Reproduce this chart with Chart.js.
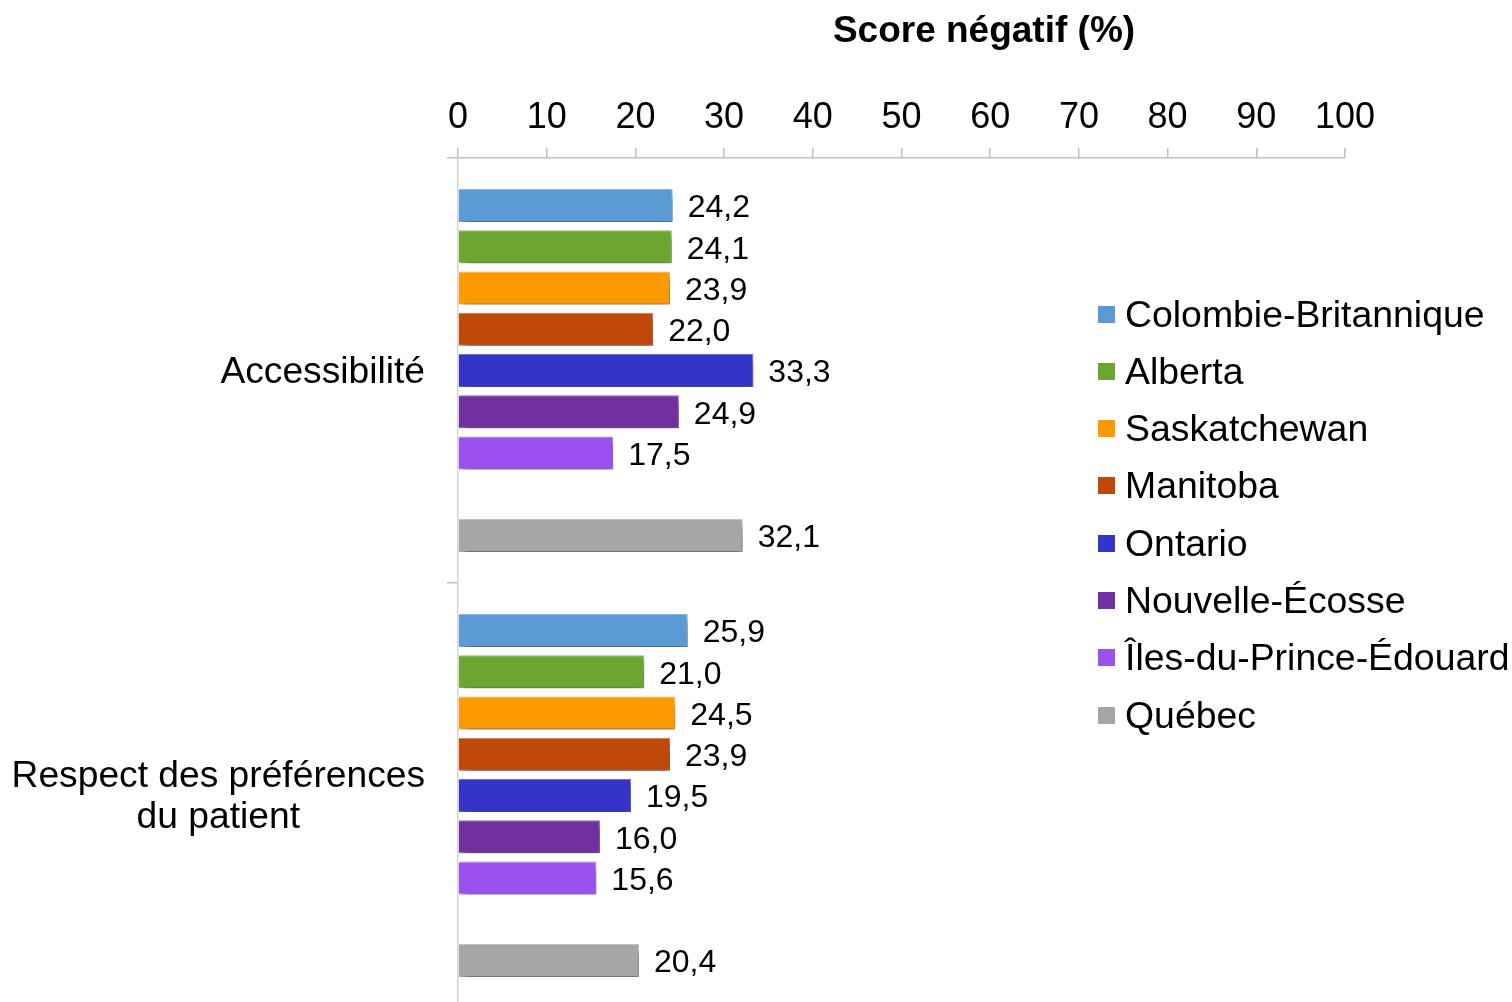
<!DOCTYPE html>
<html lang="fr">
<head>
<meta charset="utf-8">
<title>Score négatif (%)</title>
<script src="https://cdn.jsdelivr.net/npm/chart.js@4.4.1/dist/chart.umd.min.js"></script>
<style>
  html, body { margin: 0; padding: 0; background: #fff; overflow: hidden; }
  #wrap { position: relative; width: 1512px; height: 1008px; }
  #legend { position: absolute; left: 1098px; top: 0; font-family: "Liberation Sans", Arial, sans-serif; font-size: 37.4px; color: #000; }
  .item { position: absolute; left: 0; height: 40px; display: flex; align-items: center; white-space: nowrap; }
  .box { width: 17px; height: 17px; margin-right: 10px; flex: none; }
</style>
</head>
<body>
<div id="wrap">
  <canvas id="chart"></canvas>
  <div id="legend"></div>
</div>
<script>
// Categories (y axis) and the x tick values
const categories = ['Accessibilité', ['Respect des préférences', 'du patient']];
const xTicks = [0, 10, 20, 30, 40, 50, 60, 70, 80, 90, 100];

// Negative score (%) per province, one value per category
const colombieBritannique = [24.2, 25.9];
const alberta            = [24.1, 21.0];
const saskatchewan       = [23.9, 24.5];
const manitoba           = [22.0, 23.9];
const ontario            = [33.3, 19.5];
const nouvelleEcosse     = [24.9, 16.0];
const ilesPrinceEdouard  = [17.5, 15.6];
const quebec             = [32.1, 20.4];

const series = [
  { label: 'Colombie-Britannique', data: colombieBritannique, color: '#5B9BD5', edge: '#8DBBE6' },
  { label: 'Alberta',              data: alberta,             color: '#6CA530', edge: '#97C469' },
  { label: 'Saskatchewan',         data: saskatchewan,        color: '#FF9900', edge: '#FFBC5A' },
  { label: 'Manitoba',             data: manitoba,            color: '#C0490A', edge: '#D98152' },
  { label: 'Ontario',              data: ontario,             color: '#3434C8', edge: '#7474E0' },
  { label: 'Nouvelle-Écosse',      data: nouvelleEcosse,      color: '#7030A0', edge: '#9A6AC0' },
  { label: 'Îles-du-Prince-Édouard', data: ilesPrinceEdouard, color: '#9C50F0', edge: '#BE8CF6' },
  { label: null,                   data: [null, null],        color: 'rgba(0,0,0,0)', edge: 'rgba(0,0,0,0)' }, // gap before Québec
  { label: 'Québec',               data: quebec,              color: '#A6A6A6', edge: '#C8C8C8' }
];

const FONT = '"Liberation Sans", Arial, sans-serif';

const datasets = series.map(s => ({
  label: s.label || '',
  data: s.data,
  backgroundColor: s.color,
  borderColor: s.edge,
  borderWidth: 1,
  borderSkipped: 'start',
  barPercentage: 0.8,
  categoryPercentage: 0.8735
}));

// Soft drop shadow under each bar
const barShadow = {
  id: 'barShadow',
  beforeDatasetDraw(chart) {
    const ctx = chart.ctx;
    ctx.save();
    ctx.shadowColor = 'rgba(0,0,0,0.5)';
    ctx.shadowBlur = 9;
    ctx.shadowOffsetX = 3;
    ctx.shadowOffsetY = 6;
  },
  afterDatasetDraw(chart) {
    chart.ctx.restore();
  }
};

// Value labels at the end of each bar
const valueLabels = {
  id: 'valueLabels',
  afterDatasetsDraw(chart) {
    const ctx = chart.ctx;
    ctx.save();
    ctx.font = '32px ' + FONT;
    ctx.fillStyle = '#000';
    ctx.textAlign = 'left';
    ctx.textBaseline = 'middle';
    chart.data.datasets.forEach((ds, di) => {
      const meta = chart.getDatasetMeta(di);
      meta.data.forEach((bar, i) => {
        const v = ds.data[i];
        if (v === null || v === undefined) return;
        ctx.fillText(v.toFixed(1).replace('.', ','), bar.x + 15, bar.y + 3);
      });
    });
    ctx.restore();
  }
};

// Category labels: block right-aligned next to the axis, lines centred within it
const categoryLabels = {
  id: 'categoryLabels',
  afterDraw(chart) {
    const ctx = chart.ctx;
    const y = chart.scales.y;
    const right = y.right - 33;
    const lineH = 41;
    ctx.save();
    ctx.font = '37.2px ' + FONT;
    ctx.fillStyle = '#000';
    ctx.textAlign = 'center';
    ctx.textBaseline = 'middle';
    categories.forEach((lab, i) => {
      const lines = Array.isArray(lab) ? lab : [lab];
      const widest = Math.max(...lines.map(l => ctx.measureText(l).width));
      const cx = right - widest / 2;
      const cy = y.getPixelForValue(i);
      lines.forEach((l, k) => {
        ctx.fillText(l, cx, cy + (k - (lines.length - 1) / 2) * lineH + 2);
      });
    });
    ctx.restore();
  }
};

// Axis title above the tick labels
const axisTitle = {
  id: 'axisTitle',
  afterDraw(chart) {
    const ctx = chart.ctx;
    ctx.save();
    ctx.font = 'bold 37px ' + FONT;
    ctx.fillStyle = '#000';
    ctx.textAlign = 'center';
    ctx.textBaseline = 'middle';
    ctx.fillText('Score négatif (%)', 984, 32);
    ctx.restore();
  }
};

const chart = new Chart(document.getElementById('chart'), {
  type: 'bar',
  data: { labels: categories, datasets },
  plugins: [barShadow, valueLabels, categoryLabels, axisTitle],
  options: {
    indexAxis: 'y',
    responsive: true,
    maintainAspectRatio: false,
    animation: false,
    layout: { padding: { left: 0, right: 167, top: 0, bottom: 0 } },
    plugins: {
      legend: { display: false },
      tooltip: { enabled: false },
      title: { display: false }
    },
    scales: {
      x: {
        position: 'top',
        min: 0,
        max: 100,
        afterBuildTicks(scale) { scale.ticks = xTicks.map(v => ({ value: v })); },
        afterFit(scale) { scale.height = 158; },
        ticks: {
          color: '#000',
          font: { family: FONT, size: 36 },
          padding: 8,
          maxRotation: 0
        },
        grid: { drawOnChartArea: false, drawTicks: true, tickLength: 10, color: '#BFBFBF', lineWidth: 1.5 },
        border: { color: '#BFBFBF', width: 1.5 }
      },
      y: {
        position: 'left',
        afterFit(scale) { scale.width = 458; },
        ticks: { display: false },
        grid: { offset: true, drawOnChartArea: false, drawTicks: true, tickLength: 11, color: '#BFBFBF', lineWidth: 1.5 },
        border: { color: '#D4D4D4', width: 1.5 }
      }
    }
  }
});

// Legend list built from the chart's own datasets
const legend = document.getElementById('legend');
let row = 0;
chart.data.datasets.forEach(ds => {
  if (!ds.label) return;
  const item = document.createElement('div');
  item.className = 'item';
  item.style.top = (313 - 19 + row * 57.3) + 'px';
  const box = document.createElement('span');
  box.className = 'box';
  box.style.background = ds.backgroundColor;
  const txt = document.createElement('span');
  txt.textContent = ds.label;
  item.appendChild(box);
  item.appendChild(txt);
  legend.appendChild(item);
  row++;
});
</script>
</body>
</html>
